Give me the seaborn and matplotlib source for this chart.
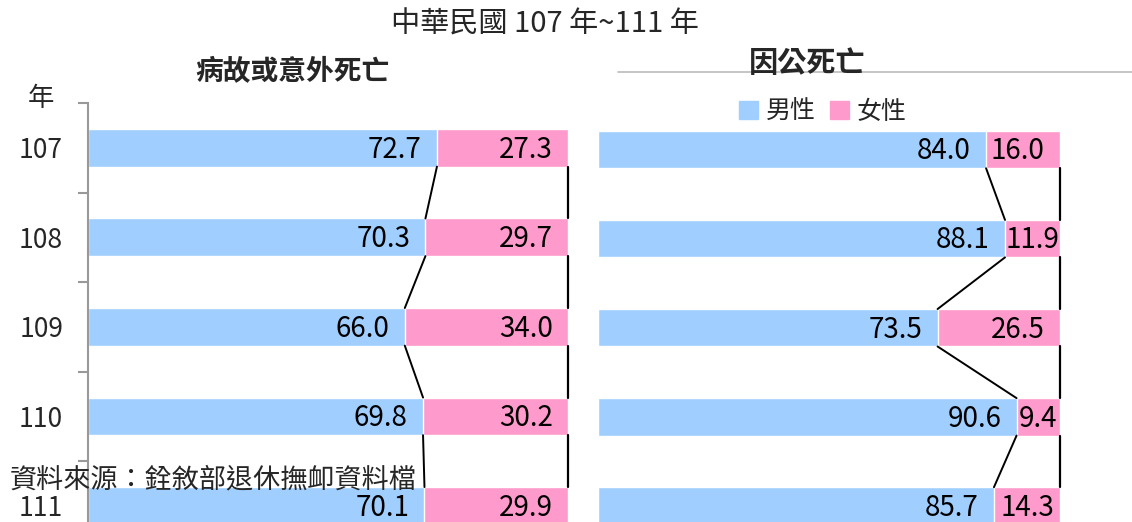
import matplotlib
matplotlib.use("Agg")
import matplotlib.pyplot as plt
import seaborn as sns
import pandas as pd
from matplotlib.lines import Line2D
from matplotlib.patches import Patch

# data
years = ["107", "108", "109", "110", "111"]
illness_male = [72.7, 70.3, 66.0, 69.8, 70.1]
illness_female = [27.3, 29.7, 34.0, 30.2, 29.9]
duty_male = [84.0, 88.1, 73.5, 90.6, 85.7]
duty_female = [16.0, 11.9, 26.5, 9.4, 14.3]

male_color = "#A0CFFF"
female_color = "#FF9ACC"

sns.set_style("white")
plt.rcParams["font.family"] = ["Noto Sans CJK TC", "DejaVu Sans"]

fig = plt.figure(figsize=(11.32, 5.22), dpi=100)
ax_left = fig.add_axes([88 / 1132, 0, 480 / 1132, 1 - 103 / 522])
ax_right = fig.add_axes([598 / 1132, 0, 462 / 1132, 1 - 105 / 522])

BAR_W = 0.42
PAD_PT = 11  # label padding from the segment end, in points

labels = []  # (axes, text artist, segment start, segment end, row)


def draw_panel(ax, male, female):
    df = pd.DataFrame({"year": years, "male": male, "female": female})
    df["total"] = df["male"] + df["female"]
    sns.barplot(data=df, x="total", y="year", orient="h", color=female_color,
                width=BAR_W, saturation=1, ax=ax)
    sns.barplot(data=df, x="male", y="year", orient="h", color=male_color,
                width=BAR_W, saturation=1, ax=ax)
    ax.set_xlim(0, 100)
    ax.set_ylim(4.18, -0.5)
    # value labels: inside end, centred when the segment is too short
    for i, (m, f) in enumerate(zip(male, female)):
        for start, end, val in [(0, m, m), (m, m + f, f)]:
            t = ax.annotate(f"{val:.1f}", xy=(end, i + 0.02), xytext=(-PAD_PT, 0),
                            textcoords="offset points", ha="right", va="center",
                            fontsize=20, color="black")
            labels.append((ax, t, start, end, i))
    # connector lines between bars
    for i in range(len(male) - 1):
        ax.plot([male[i], male[i + 1]], [i + BAR_W / 2, i + 1 - BAR_W / 2],
                color="black", lw=1.4, clip_on=False)
        ax.plot([100, 100], [i + BAR_W / 2, i + 1 - BAR_W / 2],
                color="black", lw=1.6, clip_on=False)
    ax.set_xlabel("")
    ax.set_ylabel("")
    ax.set_xticks([])
    sns.despine(ax=ax, top=True, right=True, bottom=True, left=True)


draw_panel(ax_left, illness_male, illness_female)
draw_panel(ax_right, duty_male, duty_female)

# left axis with year labels and boundary ticks
ax_left.spines["left"].set_visible(True)
ax_left.spines["left"].set_color("#999999")
ax_left.spines["left"].set_linewidth(1.5)
ax_left.set_yticks(range(len(years)))
ax_left.set_yticklabels(years, fontsize=19)
ax_left.tick_params(axis="y", which="major", left=True, length=0, pad=18)
ax_left.set_yticks([-0.5, 0.5, 1.5, 2.5, 3.5], minor=True)
ax_left.tick_params(axis="y", which="minor", left=True, length=7, width=1.5,
                    color="#999999", direction="out")
ax_right.set_yticks([])

# shift labels that would spill past their segment start
fig.canvas.draw()
renderer = fig.canvas.get_renderer()
for ax, t, start, end, i in labels:
    bb = t.get_window_extent(renderer)
    seg_left = ax.transData.transform((start, i))[0]
    if bb.x0 < seg_left:
        t.set_ha("center")
        t.xy = ((start + end) / 2, i + 0.02)
        t.set_position((0, 0))

# titles
fig.text(545 / 1132, 1 - 25 / 522, "中華民國 107 年~111 年", ha="center", va="center", fontsize=21)
fig.text(292 / 1132, 1 - 72 / 522, "病故或意外死亡", ha="center", va="center",
         fontsize=20, fontweight="bold")
fig.text(807 / 1132, 1 - 63 / 522, "因公死亡", ha="center", va="center",
         fontsize=21, fontweight="bold")
fig.add_artist(Line2D([618 / 1132, 1], [1 - 72 / 522, 1 - 72 / 522],
                      color="#BBBBBB", lw=1.2, transform=fig.transFigure))
fig.text(41 / 1132, 1 - 98 / 522, "年", ha="center", va="center", fontsize=19)

# legend
handles = [Patch(color=male_color, label="男性"), Patch(color=female_color, label="女性")]
fig.legend(handles=handles, loc="center", bbox_to_anchor=(823 / 1132, 1 - 112 / 522),
           ncol=2, frameon=False, fontsize=18, handlelength=0.75, handleheight=0.75,
           handletextpad=0.3, columnspacing=0.6, borderpad=0)

# source note
fig.text(10 / 1132, 1 - 480 / 522, "資料來源：銓敘部退休撫卹資料檔", ha="left", va="center", fontsize=19.5)

fig.savefig("out.png", dpi=100)
